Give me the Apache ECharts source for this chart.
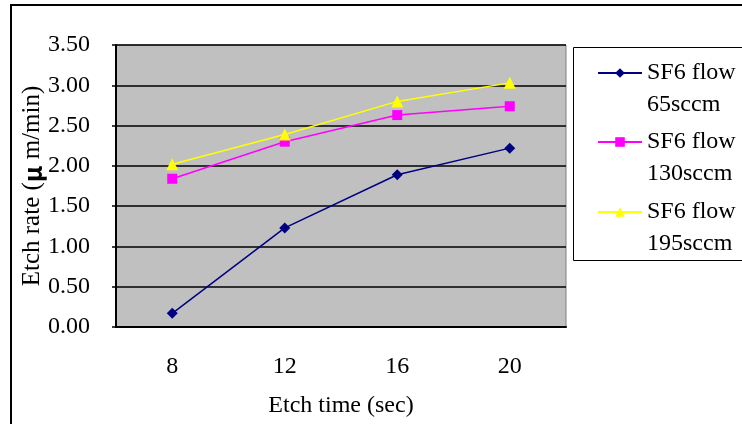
<!DOCTYPE html>
<html>
<head>
<meta charset="utf-8">
<script src="https://cdn.jsdelivr.net/npm/echarts@6/dist/echarts.min.js"></script>
<style>
html,body{margin:0;padding:0;background:#fff;}
#main{width:742px;height:424px;}
</style>
</head>
<body>
<div id="main"></div>
<script>
const categories = ['8', '12', '16', '20'];
const seriesNames = ['SF6 flow 65sccm', 'SF6 flow 130sccm', 'SF6 flow 195sccm'];
const flow65 = [0.17, 1.23, 1.89, 2.22];
const flow130 = [1.84, 2.30, 2.63, 2.74];
const flow195 = [2.02, 2.39, 2.80, 3.03];
const yTicks = [0, 0.5, 1, 1.5, 2, 2.5, 3, 3.5];

const FONT = '"Liberation Serif", "Times New Roman", serif';
const chart = echarts.init(document.getElementById('main'));

function legendFor(name, top) {
  return {
    data: [name],
    left: 597,
    top: top,
    padding: 0,
    orient: 'vertical',
    itemWidth: 44,
    itemHeight: 12,
    selectedMode: false,
    formatter: function (n) { return ' \n' + n.replace('flow ', 'flow\n'); },
    textStyle: {
      fontFamily: FONT, fontSize: 24, color: '#000',
      lineHeight: 32
    }
  };
}

chart.setOption({
  animation: false,
  backgroundColor: '#fff',
  graphic: [
    { type: 'rect', shape: { x: 11, y: 5, width: 800, height: 500 }, style: { fill: 'none', stroke: '#000', lineWidth: 2 }, z: 0 },
    { type: 'rect', shape: { x: 573.5, y: 47.5, width: 200, height: 213 }, style: { fill: '#fff', stroke: '#000', lineWidth: 1 }, z: 1 }
  ],
  legend: [
    legendFor(seriesNames[0], 25),
    legendFor(seriesNames[1], 94),
    legendFor(seriesNames[2], 164)
  ],
  grid: {
    left: 116, right: 176, top: 45, bottom: 97,
    show: true, backgroundColor: '#c0c0c0', borderColor: '#808080', borderWidth: 1
  },
  xAxis: {
    type: 'category',
    data: categories,
    boundaryGap: true,
    name: 'Etch time (sec)',
    nameLocation: 'middle',
    nameGap: 67,
    nameMoveOverlap: false,
    nameTextStyle: { fontFamily: FONT, fontSize: 24, color: '#000' },
    axisLine: { lineStyle: { color: '#000', width: 2 } },
    axisTick: { inside: true, length: 7, lineStyle: { color: '#000', width: 1.5 } },
    axisLabel: { fontFamily: FONT, fontSize: 24, color: '#000', margin: 28 },
    splitLine: { show: false }
  },
  yAxis: {
    type: 'value',
    min: 0, max: 3.5, interval: 0.5,
    name: 'Etch rate ({mu|μ} m/min)',
    nameLocation: 'middle',
    nameGap: 71,
    nameMoveOverlap: false,
    nameTextStyle: {
      fontFamily: FONT, fontSize: 25, color: '#000',
      rich: { mu: { fontFamily: '"Noto Sans CJK TC", sans-serif', fontWeight: 'bold', fontSize: 25, color: '#000' } }
    },
    axisLine: { show: true, lineStyle: { color: '#000', width: 2 } },
    axisTick: { show: true, length: 4, lineStyle: { color: '#000', width: 1.5 } },
    axisLabel: {
      fontFamily: FONT, fontSize: 24, color: '#000', margin: 26,
      formatter: function (v) { return yTicks.indexOf(v) >= 0 ? v.toFixed(2) : ''; }
    },
    splitLine: { show: true, lineStyle: { color: '#000', width: 1.5 } }
  },
  series: [
    { name: seriesNames[0], type: 'line', data: flow65, symbol: 'diamond', symbolSize: 11,
      lineStyle: { color: '#000080', width: 1.5 }, itemStyle: { color: '#000080' } },
    { name: seriesNames[1], type: 'line', data: flow130, symbol: 'rect', symbolSize: 10,
      lineStyle: { color: '#ff00ff', width: 1.5 }, itemStyle: { color: '#ff00ff' } },
    { name: seriesNames[2], type: 'line', data: flow195, symbol: 'triangle', symbolSize: 12,
      lineStyle: { color: '#ffff00', width: 1.5 }, itemStyle: { color: '#ffff00' } }
  ]
});
</script>
</body>
</html>
